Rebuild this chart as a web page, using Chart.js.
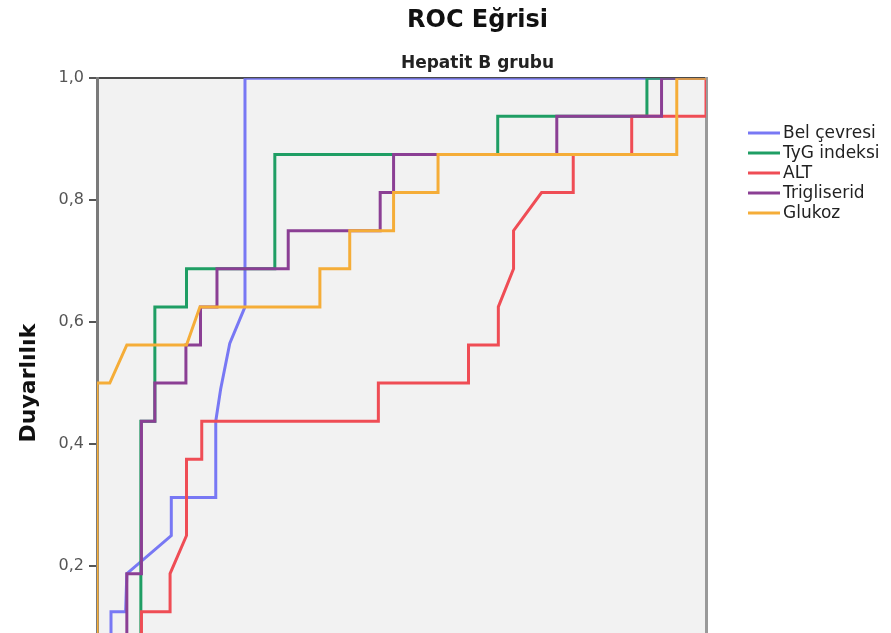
<!DOCTYPE html>
<html lang="tr">
<head>
<meta charset="utf-8">
<title>ROC Eğrisi</title>
<script src="https://cdn.jsdelivr.net/npm/chart.js@4.4.1/dist/chart.umd.min.js"></script>
<style>
    html, body { margin: 0; padding: 0; background: #fff; overflow: hidden; }
    #rocChart { display: block; }
</style>
</head>
<body>
<canvas id="rocChart" width="955" height="740"></canvas>
<script>
// Etiketler
const seriesLabels = ['Bel çevresi', 'TyG indeksi', 'ALT', 'Trigliserid', 'Glukoz'];
const seriesColors = ['#7878f4', '#1f9e64', '#ef4d55', '#8b3f94', '#f5ad38'];
const yTicks = [0, 0.2, 0.4, 0.6, 0.8, 1.0];

// 1 - özgüllük (x) ve duyarlılık (y) değerleri
const belX = [0, 0.023, 0.023, 0.047, 0.049, 0.122, 0.122, 0.195, 0.195, 0.203, 0.218, 0.243, 0.243, 1];
const belY = [0, 0.0625, 0.125, 0.125, 0.1875, 0.25, 0.3125, 0.3125, 0.4375, 0.49, 0.565, 0.625, 1, 1];

const tygX = [0, 0.072, 0.072, 0.095, 0.095, 0.147, 0.147, 0.292, 0.292, 0.658, 0.658, 0.903, 0.903, 1];
const tygY = [0, 0, 0.4375, 0.4375, 0.625, 0.625, 0.6875, 0.6875, 0.875, 0.875, 0.9375, 0.9375, 1, 1];

const altX = [0, 0.073, 0.073, 0.12, 0.12, 0.147, 0.147, 0.172, 0.172, 0.462, 0.462, 0.61, 0.61, 0.659, 0.659, 0.684, 0.684, 0.73, 0.782, 0.782, 0.878, 0.878, 1, 1];
const altY = [0, 0, 0.125, 0.125, 0.1875, 0.25, 0.375, 0.375, 0.4375, 0.4375, 0.5, 0.5, 0.5625, 0.5625, 0.625, 0.6875, 0.75, 0.8125, 0.8125, 0.875, 0.875, 0.9375, 0.9375, 1];

const trigX = [0, 0.049, 0.049, 0.073, 0.073, 0.095, 0.095, 0.146, 0.146, 0.17, 0.17, 0.197, 0.197, 0.314, 0.314, 0.465, 0.465, 0.487, 0.487, 0.755, 0.755, 0.927, 0.927, 1];
const trigY = [0, 0, 0.1875, 0.1875, 0.4375, 0.4375, 0.5, 0.5, 0.5625, 0.5625, 0.625, 0.625, 0.6875, 0.6875, 0.75, 0.75, 0.8125, 0.8125, 0.875, 0.875, 0.9375, 0.9375, 1, 1];

const gluX = [0, 0, 0.021, 0.049, 0.147, 0.169, 0.366, 0.366, 0.415, 0.415, 0.487, 0.487, 0.56, 0.56, 0.952, 0.952, 1];
const gluY = [0, 0.5, 0.5, 0.5625, 0.5625, 0.625, 0.625, 0.6875, 0.6875, 0.75, 0.75, 0.8125, 0.8125, 0.875, 0.875, 1, 1];

const seriesX = [belX, tygX, altX, trigX, gluX];
const seriesY = [belY, tygY, altY, trigY, gluY];

function toPoints(xs, ys) {
    return xs.map((x, i) => ({ x: x, y: ys[i] }));
}

const formatTick = value => yTicks.includes(Math.round(value * 10) / 10) ? value.toFixed(1).replace('.', ',') : '';

// Çizim alanı arka planı
const plotBackground = {
    id: 'plotBackground',
    beforeDraw(chart) {
        const { ctx, chartArea } = chart;
        ctx.save();
        ctx.fillStyle = '#f2f2f2';
        ctx.fillRect(chartArea.left, chartArea.top, chartArea.right - chartArea.left, chartArea.bottom - chartArea.top);
        ctx.restore();
    }
};

// Sağdaki açıklama
const sideLegend = {
    id: 'sideLegend',
    afterDraw(chart, args, opts) {
        const ctx = chart.ctx;
        ctx.save();
        ctx.font = opts.font;
        ctx.textBaseline = 'middle';
        chart.data.datasets.forEach((ds, i) => {
            const y = opts.top + i * opts.rowHeight;
            ctx.strokeStyle = ds.borderColor;
            ctx.lineWidth = 3;
            ctx.beginPath();
            ctx.moveTo(opts.left, y);
            ctx.lineTo(opts.left + opts.lineLength, y);
            ctx.stroke();
            ctx.fillStyle = '#222';
            ctx.fillText(ds.label, opts.left + opts.lineLength + 3, y + 1);
        });
        ctx.restore();
    }
};

const ctx = document.getElementById('rocChart').getContext('2d');
new Chart(ctx, {
    type: 'scatter',
    data: {
        datasets: seriesLabels.map((label, i) => ({
            label: label,
            data: toPoints(seriesX[i], seriesY[i]),
            showLine: true,
            borderColor: seriesColors[i],
            backgroundColor: seriesColors[i],
            borderWidth: 3,
            pointRadius: 0,
            tension: 0,
            order: seriesLabels.length - i
        }))
    },
    options: {
        responsive: false,
        animation: false,
        layout: { padding: { top: 0, left: 0, right: 0, bottom: 12 } },
        plugins: {
            legend: { display: false },
            tooltip: { enabled: false },
            title: {
                display: true,
                text: 'ROC Eğrisi',
                color: '#111',
                font: { family: 'DejaVu Sans', size: 24, weight: 'bold' },
                padding: { top: 6, bottom: 19 }
            },
            subtitle: {
                display: true,
                text: 'Hepatit B grubu',
                color: '#222',
                font: { family: 'DejaVu Sans', size: 17, weight: 'bold' },
                padding: { top: 0, bottom: 4 }
            },
            sideLegend: {
                left: 748,
                top: 133,
                rowHeight: 20,
                lineLength: 32,
                font: '17px "DejaVu Sans"'
            }
        },
        scales: {
            x: {
                type: 'linear',
                position: 'bottom',
                min: 0,
                max: 1,
                ticks: { stepSize: 0.2, callback: formatTick, color: '#555', font: { family: 'DejaVu Sans', size: 16 }, padding: 4 },
                grid: { drawOnChartArea: false, tickLength: 8, color: '#555', lineWidth: 2 },
                border: { color: '#7a7a7a', width: 3 },
                afterFit(scale) { scale.height = 40; }
            },
            x2: {
                type: 'linear',
                position: 'top',
                min: 0,
                max: 1,
                ticks: { display: false },
                grid: { display: false },
                border: { color: '#4a4a4a', width: 2 },
                afterFit(scale) { scale.height = 0; }
            },
            y: {
                type: 'linear',
                position: 'left',
                min: 0,
                max: 1,
                ticks: { stepSize: 0.2, callback: formatTick, color: '#555', font: { family: 'DejaVu Sans', size: 16 }, padding: 5 },
                grid: { drawOnChartArea: false, tickLength: 8, color: '#555', lineWidth: 2 },
                border: { color: '#7a7a7a', width: 3 },
                title: {
                    display: true,
                    text: 'Duyarlılık',
                    color: '#111',
                    font: { family: 'DejaVu Sans', size: 22, weight: 'bold' },
                    padding: { top: 16, bottom: 0 }
                },
                afterFit(scale) { scale.width = 97; }
            },
            y2: {
                type: 'linear',
                position: 'right',
                min: 0,
                max: 1,
                ticks: { display: false },
                grid: { display: false },
                border: { color: '#9a9a9a', width: 3 },
                afterFit(scale) { scale.width = 955 - 706; }
            }
        }
    },
    plugins: [plotBackground, sideLegend]
});
</script>
</body>
</html>
